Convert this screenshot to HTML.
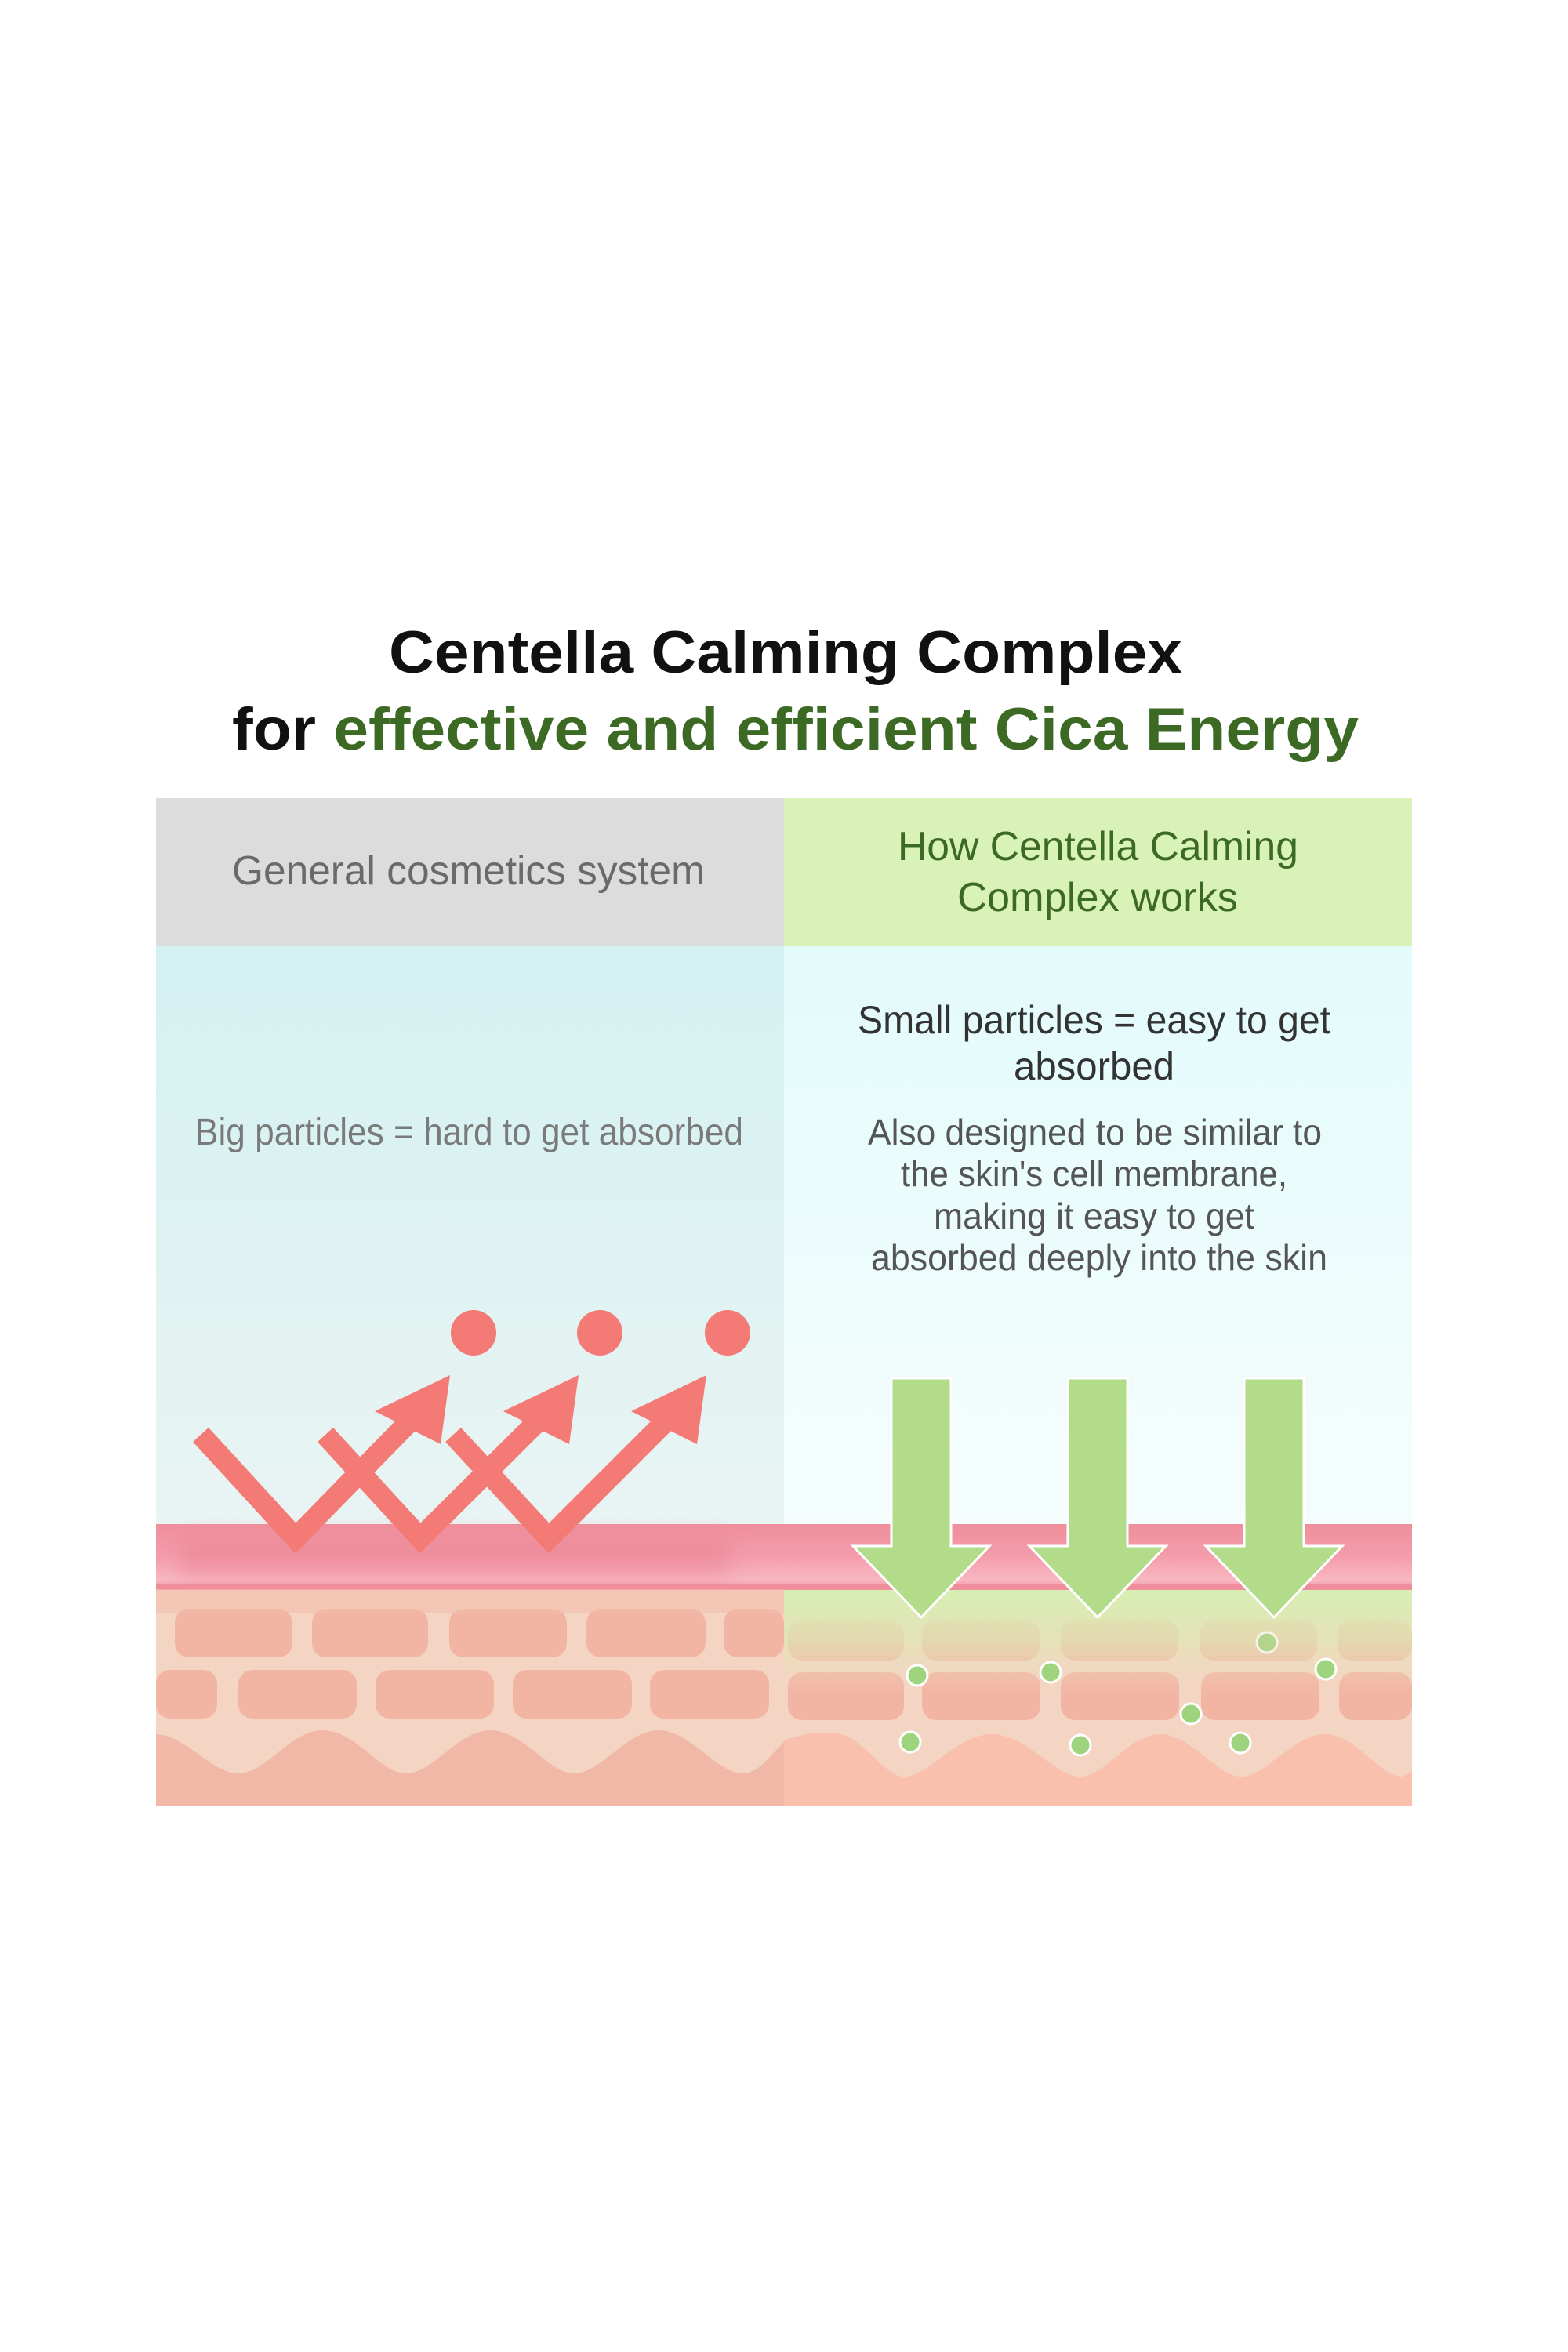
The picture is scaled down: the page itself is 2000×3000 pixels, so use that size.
<!DOCTYPE html>
<html><head><meta charset="utf-8"><style>
html,body{margin:0;padding:0;background:#fff;}
svg{display:block;}
text{font-family:"Liberation Sans",sans-serif;}
</style></head><body>
<svg width="2000" height="3000" viewBox="0 0 2000 3000" xmlns="http://www.w3.org/2000/svg">
<defs>
<linearGradient id="lbg" x1="0" y1="0" x2="0" y2="1"><stop offset="0" stop-color="#d3f1f1"/><stop offset="1" stop-color="#e9f4f3"/></linearGradient>
<linearGradient id="rbg" x1="0" y1="0" x2="0" y2="1"><stop offset="0" stop-color="#e3fbfb"/><stop offset="1" stop-color="#f5fdfd"/></linearGradient>
<linearGradient id="band" x1="0" y1="0" x2="0" y2="1"><stop offset="0" stop-color="#ef8f9c"/><stop offset="0.5" stop-color="#f49dab"/><stop offset="0.85" stop-color="#f8b7c2"/><stop offset="1" stop-color="#ee8d99"/></linearGradient>
<linearGradient id="green" x1="0" y1="0" x2="0" y2="1"><stop offset="0" stop-color="#d6efb2" stop-opacity="1"/><stop offset="0.5" stop-color="#dfe7b4" stop-opacity="0.7"/><stop offset="1" stop-color="#f3d4c0" stop-opacity="0"/></linearGradient>
<filter id="blur" x="-10%" y="-50%" width="120%" height="200%"><feGaussianBlur stdDeviation="14"/></filter>
</defs>

<!-- Title -->
<text x="1002" y="858" font-size="76" font-weight="bold" fill="#111" text-anchor="middle" textLength="1012" lengthAdjust="spacingAndGlyphs">Centella Calming Complex</text>
<text x="296" y="956" font-size="76" font-weight="bold" textLength="1437" lengthAdjust="spacingAndGlyphs"><tspan fill="#111">for </tspan><tspan fill="#3c6a24">effective and efficient Cica Energy</tspan></text>

<!-- Panels -->
<rect x="199" y="1018" width="801" height="188" fill="#dcdcdc"/>
<rect x="1000" y="1018" width="801" height="188" fill="#d8f2b8"/>
<rect x="199" y="1206" width="801" height="740" fill="url(#lbg)"/>
<rect x="1000" y="1206" width="801" height="740" fill="url(#rbg)"/>

<text x="296" y="1128" font-size="52" fill="#6a6a6a" textLength="603" lengthAdjust="spacingAndGlyphs">General cosmetics system</text>
<text x="1145" y="1097" font-size="52" fill="#3c6a24" textLength="511" lengthAdjust="spacingAndGlyphs">How Centella Calming</text>
<text x="1221" y="1162" font-size="52" fill="#3c6a24" textLength="358" lengthAdjust="spacingAndGlyphs">Complex works</text>

<text x="249" y="1460" font-size="48" fill="#7a7a7a" textLength="699" lengthAdjust="spacingAndGlyphs">Big particles = hard to get absorbed</text>
<text x="1094" y="1318" font-size="50" fill="#333" textLength="603" lengthAdjust="spacingAndGlyphs">Small particles = easy to get</text>
<text x="1293" y="1377" font-size="50" fill="#333" textLength="205" lengthAdjust="spacingAndGlyphs">absorbed</text>
<text x="1107" y="1460" font-size="46" fill="#555" textLength="579" lengthAdjust="spacingAndGlyphs">Also designed to be similar to</text>
<text x="1149" y="1513" font-size="46" fill="#555" textLength="493" lengthAdjust="spacingAndGlyphs">the skin's cell membrane,</text>
<text x="1191" y="1567" font-size="46" fill="#555" textLength="409" lengthAdjust="spacingAndGlyphs">making it easy to get</text>
<text x="1111" y="1620" font-size="46" fill="#555" textLength="582" lengthAdjust="spacingAndGlyphs">absorbed deeply into the skin</text>

<!-- Skin -->
<rect x="199" y="2025" width="1602" height="278" fill="#f4d5c3"/>
<g fill="#f2b4a3">
<rect x="223" y="2052" width="150" height="62" rx="18"/><rect x="398" y="2052" width="148" height="62" rx="18"/><rect x="573" y="2052" width="150" height="62" rx="18"/><rect x="748" y="2052" width="152" height="62" rx="18"/><rect x="923" y="2052" width="77" height="62" rx="18"/>
<rect x="199" y="2130" width="78" height="62" rx="18"/><rect x="304" y="2130" width="151" height="62" rx="18"/><rect x="479" y="2130" width="151" height="62" rx="18"/><rect x="654" y="2130" width="152" height="62" rx="18"/><rect x="829" y="2130" width="152" height="62" rx="18"/>
<rect x="1005" y="2066" width="148" height="52" rx="18"/><rect x="1176" y="2066" width="150" height="52" rx="18"/><rect x="1353" y="2066" width="150" height="52" rx="18"/><rect x="1530" y="2066" width="150" height="52" rx="18"/><rect x="1706" y="2066" width="95" height="52" rx="18"/>
<rect x="1005" y="2133" width="148" height="61" rx="18"/><rect x="1176" y="2133" width="151" height="61" rx="18"/><rect x="1353" y="2133" width="151" height="61" rx="18"/><rect x="1532" y="2133" width="151" height="61" rx="18"/><rect x="1708" y="2133" width="93" height="61" rx="18"/>
</g>
<!-- wave -->
<path d="M199 2212 C235 2212 270 2262 304 2262 C340 2262 370 2207 411 2207 C455 2207 485 2262 518 2262 C552 2262 585 2207 625 2207 C668 2207 700 2262 732 2262 C766 2262 800 2207 840 2207 C880 2207 915 2262 947 2262 C970 2262 985 2235 1000 2222 L1000 2303 L199 2303 Z" fill="#f2b8a7"/>
<path d="M1000 2220 C1030 2210 1040 2210 1060 2210 C1100 2210 1125 2266 1153 2266 C1185 2266 1220 2212 1265 2212 C1310 2212 1345 2266 1378 2266 C1410 2266 1440 2212 1480 2212 C1520 2212 1552 2266 1583 2266 C1615 2266 1650 2212 1690 2212 C1730 2212 1760 2266 1788 2266 L1801 2260 L1801 2303 L1000 2303 Z" fill="#f9c0ad"/>
<!-- green tint right -->
<rect x="1000" y="2025" width="801" height="140" fill="url(#green)"/>
<!-- pink band -->
<rect x="199" y="1944" width="1602" height="84" fill="url(#band)"/>
<rect x="230" y="1960" width="700" height="50" fill="#e9808f" opacity="0.5" filter="url(#blur)"/>
<rect x="199" y="2021" width="1602" height="6" fill="#ef8e9a"/>
<rect x="199" y="2027" width="801" height="30" fill="#f3bcac" opacity="0.6"/>

<!-- Red particles -->
<g fill="#f47a76">
<circle cx="604" cy="1700" r="29"/><circle cx="765" cy="1700" r="29"/><circle cx="928" cy="1700" r="29"/>
</g>
<g stroke="#f47a76" stroke-width="27" fill="none" stroke-linejoin="miter">
<polyline points="256,1830 377,1962 545,1790"/>
<polyline points="415,1830 536,1962 709,1790"/>
<polyline points="578,1830 700,1962 872,1790"/>
</g>
<g fill="#f47a76">
<polygon points="574,1754 478,1800 562,1842"/>
<polygon points="738,1754 642,1800 726,1842"/>
<polygon points="901,1754 805,1800 889,1842"/>
</g>

<!-- Green arrows -->
<g fill="#b2dc8a" stroke="#fff" stroke-width="3">
<polygon points="1137,1758 1213,1758 1213,1972 1262,1972 1175,2063 1088,1972 1137,1972"/>
<polygon points="1362,1758 1438,1758 1438,1972 1487,1972 1400,2063 1313,1972 1362,1972"/>
<polygon points="1587,1758 1663,1758 1663,1972 1712,1972 1625,2063 1538,1972 1587,1972"/>
</g>
<g fill="#9fd47e" stroke="#fff" stroke-width="3">
<circle cx="1170" cy="2137" r="13"/><circle cx="1340" cy="2133" r="13"/><circle cx="1616" cy="2095" r="13" opacity="0.7"/><circle cx="1691" cy="2129" r="13"/><circle cx="1519" cy="2186" r="13"/><circle cx="1161" cy="2222" r="13"/><circle cx="1378" cy="2226" r="13"/><circle cx="1582" cy="2223" r="13"/>
</g>
</svg>
</body></html>
